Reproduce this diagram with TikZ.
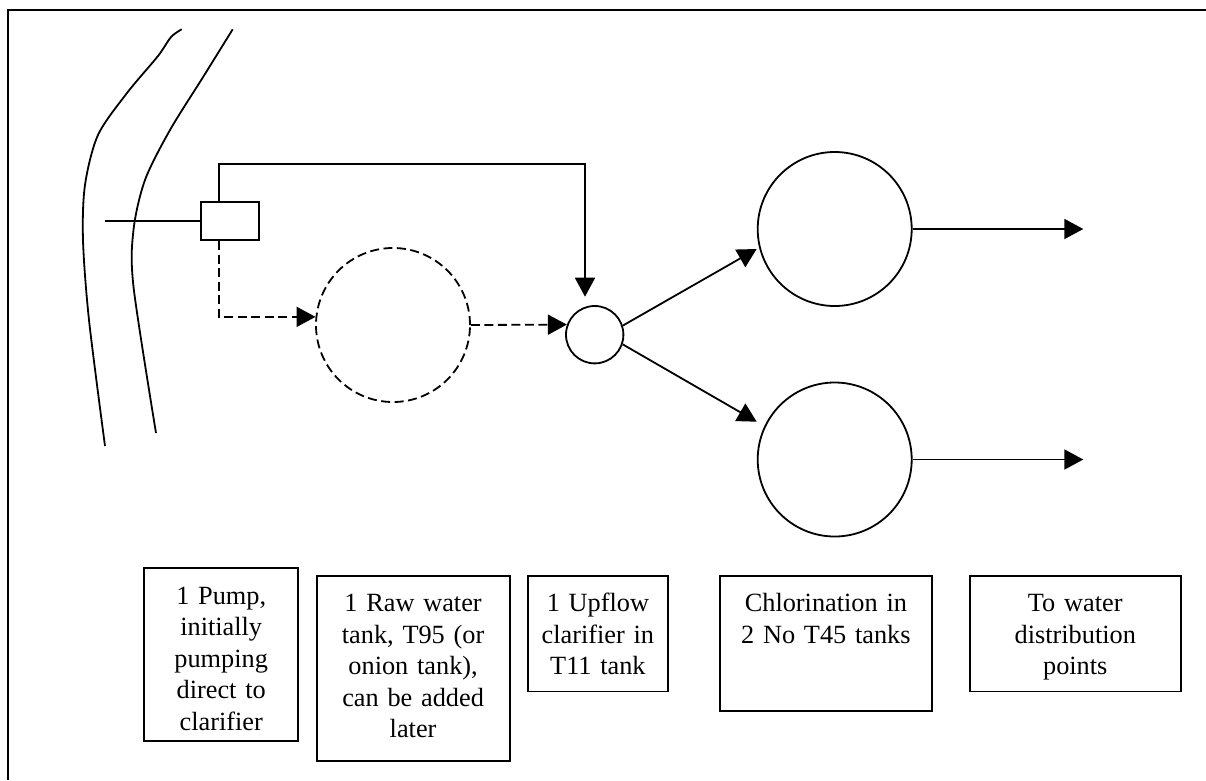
\documentclass[tikz,border=0pt]{standalone}
\usepackage{fontspec}
\setmainfont{Liberation Serif}
\usetikzlibrary{arrows.meta,calc}
\begin{document}
\begin{tikzpicture}[x=1pt,y=-1pt,
  line width=1.8pt,
  arr/.style={-{Triangle[length=19pt,width=20pt]}},
  dsh/.style={dash pattern=on 9pt off 4.5pt},
  tank/.style={circle,draw,inner sep=0pt},
  lbl/.style={draw,anchor=north west,align=center,inner xsep=0pt,inner ysep=0pt,
    text height=35.8pt,font=\fontsize{26.3}{31.6}\selectfont},
]
\useasboundingbox (0,0) rectangle (1206,780);
% frame
\draw[line width=2.2pt] (8.3,780) -- (8.3,10) -- (1206,10);
% river banks
\draw plot[smooth] coordinates {(181.7,29.3) (171,37) (158,56) (127,93) (98,135) (85,185) (83,240) (89,320) (105,446)};
\draw plot[smooth] coordinates {(232.7,29.3) (203.3,76.7) (170,130) (145,180) (133.5,230) (133.5,286.7) (156,433)};
% pump
\node[draw,minimum width=58.3pt,minimum height=38.6pt,inner sep=0pt] (pump) at (229.85,221) {};
\coordinate (intake) at (105,221);
\draw (intake) -- (pump.west);
% tanks
\node[tank,dsh,minimum size=154pt] (raw) at (393,325) {};
\node[tank,minimum size=57.4pt] (clar) at (594.7,334.7) {};
\node[tank,minimum size=154pt] (chl1) at (834.7,229) {};
\node[tank,minimum size=154pt] (chl2) at (834.7,459.5) {};
% connectors
\coordinate (topc) at (585,164);
\coordinate (tipA) at (585,296.7);
\draw[arr] ($(pump.north west)+(19.3,0)$) |- (topc) -- (tipA);
\draw[arr,dsh] ($(pump.south west)+(19.3,0)$) |- (raw.174);
\draw[arr,dsh] (raw.east) -- (clar.160);
\coordinate (t1) at (756.7,249);
\coordinate (t2) at (756.7,421.7);
\draw[arr] (clar.18) -- (t1);
\draw[arr] (clar.341) -- (t2);
\coordinate (o1) at (1083.3,229);
\coordinate (o2) at (1083.3,459.5);
\draw[arr] (chl1.east) -- (o1);
\draw[arr] (chl2.east) -- (o2);
% labels
\node[lbl,text width=154pt,text depth=137pt] (l1) at (143.3,567.3)
  {1 Pump,\\initially\\pumping\\direct to\\clarifier};
\node[lbl,text width=193pt,text depth=149.3pt] (l2) at (315.7,574.7)
  {1 Raw water\\tank, T95 (or\\onion tank),\\can be added\\later};
\node[lbl,text width=140pt,text depth=80pt] (l3) at (527,574.7)
  {1 Upflow\\clarifier in\\T11 tank};
\node[lbl,text width=212pt,text depth=99.3pt] (l4) at (719,574.7)
  {Chlorination in\\2 No T45 tanks};
\node[lbl,text width=211.3pt,text depth=80pt] (l5) at (968.7,574.7)
  {To water\\distribution\\points};
\end{tikzpicture}
\end{document}
